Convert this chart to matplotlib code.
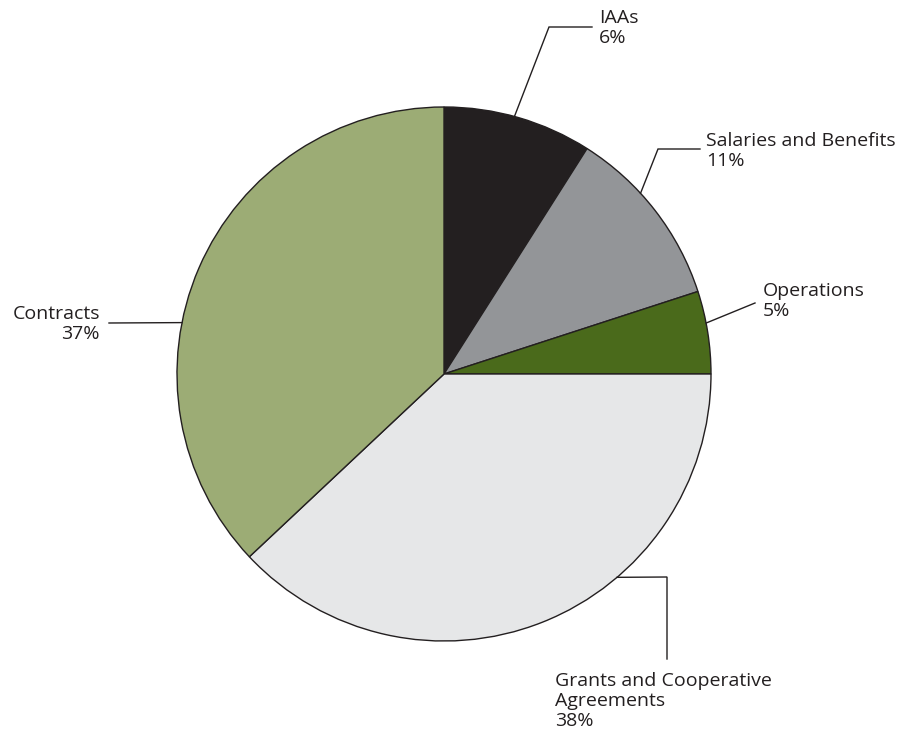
import numpy as np
import matplotlib
matplotlib.use("Agg")
import matplotlib.pyplot as plt

# ── Data ─────────────────────────────────────────────────────
categories = ["IAAs", "Salaries and Benefits", "Operations",
              "Grants and Cooperative\nAgreements", "Contracts"]
shares = [9.0, 11.0, 5.0, 38.0, 37.0]          # slice sizes as drawn
pct_labels = ["6%", "11%", "5%", "38%", "37%"]  # printed percentages
colors = ["#231f20", "#939598", "#4a6a1b", "#e6e7e8", "#9cac75"]

# ── Canvas in pixel units ────────────────────────────────────
W, H = 898, 731
fig = plt.figure(figsize=(W / 100, H / 100), dpi=100)
ax = fig.add_axes([0, 0, 1, 1])

cx, cy, r = 444, H - 374, 267
ax.pie(shares, colors=colors, startangle=90, counterclock=False,
       center=(cx, cy), radius=r,
       wedgeprops=dict(edgecolor="#231f20", linewidth=1.0))
ax.set_xlim(0, W)
ax.set_ylim(0, H)
ax.set_aspect("equal")
ax.axis("off")

# ── Labels with leader lines ─────────────────────────────────
# (anchor angle on rim, path points in px, text pos, alignment)
layout = [
    (74.7, [(549, 27), (592, 27)], (599, 23), "left"),
    (42.6, [(658, 149), (700, 149)], (706, 146), "left"),
    (11.0, [(755, 303)], (763, 296), "left"),
    (-49.6, [(667, 577), (667, 659)], (555, 686), "left"),
    (168.9, [(109, 323)], (100, 319), "right"),
]

txt_color = "#231f20"
line_gap = 20
for cat, pct, (ang, path, (tx, ty), ha) in zip(categories, pct_labels, layout):
    a = np.deg2rad(ang)
    xs = [cx + r * np.cos(a)] + [p[0] for p in path]
    ys = [cy + r * np.sin(a)] + [H - p[1] for p in path]
    ax.plot(xs, ys, color=txt_color, linewidth=1.0, solid_joinstyle="miter")
    lines = cat.split("\n") + [pct]
    for i, line in enumerate(lines):
        ax.text(tx, H - (ty + i * line_gap), line, ha=ha, va="baseline",
                fontsize=14.0, family="Open Sans", color=txt_color)

plt.savefig("out.png", dpi=100)
plt.close()
